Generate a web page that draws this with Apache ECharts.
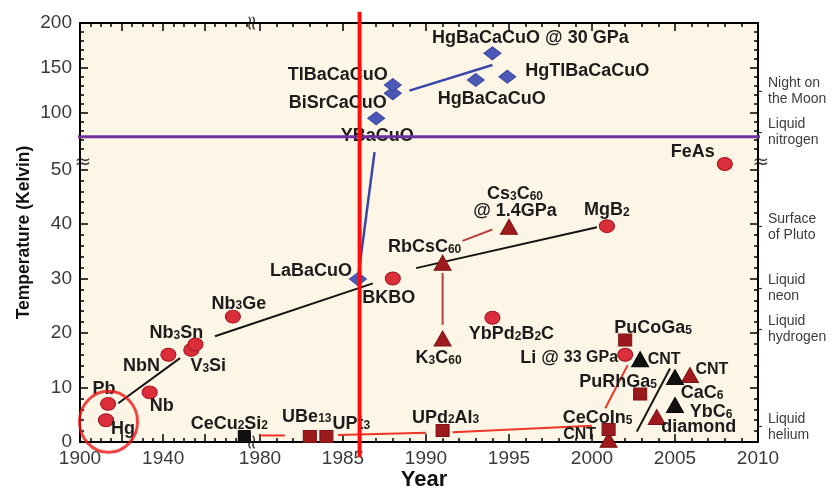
<!DOCTYPE html>
<html>
<head>
<meta charset="utf-8">
<script src="https://cdn.jsdelivr.net/npm/echarts@6/dist/echarts.min.js"></script>
<style>
  html, body { margin: 0; padding: 0; background: #ffffff; }
  #chart { width: 838px; height: 489px; }
</style>
</head>
<body>
<div id="chart"></div>
<script>
// Timeline of superconductor discoveries: critical temperature (K) against year of discovery.

// ---------- data ----------
// Label markup: [x] = subscript, <x> = smaller text.

// red circles
const circleLabels = ['Hg', 'Pb', 'Nb', 'NbN', 'V[3]Si', 'Nb[3]Sn', 'Nb[3]Ge', 'BKBO', 'YbPd[2]B[2]C', 'MgB[2]', 'Li @ <33 GPa>', 'FeAs'];
const circleYears  = [1912.5, 1913.5, 1933.5, 1942.5, 1953.5, 1955.5, 1973.5, 1988.0, 1994.0, 2000.9, 2002.0, 2008.0];
const circleTc     = [4.0, 7.0, 9.1, 16.0, 16.9, 17.9, 23.0, 30.0, 22.8, 39.6, 16.0, 51.0];

// blue diamonds: cuprates
const cuprateLabels = ['LaBaCuO', 'YBaCuO', 'BiSrCaCuO', 'TlBaCaCuO', 'HgBaCaCuO', 'HgBaCaCuO @ 30 GPa', 'HgTlBaCaCuO'];
const cuprateYears  = [1985.9, 1987.0, 1988.0, 1988.0, 1993.0, 1994.0, 1994.9];
const cuprateTc     = [29.9, 94.1, 121.9, 131.1, 136.7, 166.3, 140.3];

// dark red triangles: fullerides and carbon
const carbonLabels = ['K[3]C[60]', 'RbCsC[60]', 'Cs[3]C[60]\n@ 1.4GPa', 'diamond', '<CNT>', '<CNT>'];
const carbonYears  = [1991.0, 1991.0, 1995.0, 2003.9, 2005.9, 2001.0];
const carbonTc     = [19.0, 32.9, 39.5, 4.6, 12.3, 0.4];

// black triangles
const blackTriLabels = ['<CNT>', 'CaC[6]', 'YbC[6]'];
const blackTriYears  = [2002.9, 2005.0, 2005.0];
const blackTriTc     = [15.2, 11.9, 6.8];

// dark red squares: heavy fermions
const fermionLabels = ['UBe[13]', 'UPt[3]', 'UPd[2]Al[3]', 'CeCoIn[5]', 'PuCoGa[5]', 'PuRhGa[5]'];
const fermionYears  = [1983.0, 1984.0, 1991.0, 2001.0, 2002.0, 2002.9];
const fermionTc     = [1.0, 1.0, 2.1, 2.3, 18.7, 8.8];

// black square
const firstFermionLabels = ['CeCu[2]Si[2]'];
const firstFermionYears  = [1979.0];
const firstFermionTc     = [1.0];

// trend connectors, [year, K] end points
const blackTrends = [[[1918.4, 7.1], [1948.1, 15.4]], [[1964.9, 19.4], [1986.8, 29.1]], [[1989.4, 31.9], [2000.3, 39.4]], [[2002.7, 1.9], [2004.7, 13.5]]];
const blueTrends  = [[[1985.9, 29.9], [1986.9, 53.2]], [[1989.0, 124.8], [1994.0, 153.3]]];
const redTrends   = [[[1980.0, 1.2], [1981.5, 1.2]], [[1984.7, 1.3], [1990.0, 1.7]], [[1991.6, 1.8], [2000.0, 3.0]], [[2000.8, 6.2], [2002.15, 14.1]]];
const fullerTrends = [[[1991.0, 21.5], [1991.0, 31.0]], [[1992.2, 36.9], [1994.0, 39.0]]];

// reference temperatures on the right side
const ambientNames = ['Night on\nthe Moon', 'Liquid\nnitrogen', 'Surface\nof Pluto', 'Liquid\nneon', 'Liquid\nhydrogen', 'Liquid\nhelium'];
const ambientTemps = [124, 79, 39.5, 28.2, 20.7, 2.8];

// highlighted markers
const nitrogenLine = [[1893.1, 73.7], [2013.6, 73.7]];
const cuprateYearLine = [[1986.0, -2.75], [1986.0, 212.6]];
const earlyCircle = [1913.7, 3.7];

// tick labels
const yearTickLabels = [1900, 1940, 1980, 1985, 1990, 1995, 2000, 2005, 2010];
const tempTickLabels = [0, 10, 20, 30, 40, 50, 100, 150, 200];

// ---------- broken scales ----------
// years: 1900-1980 compressed, 1980-2010 expanded
const r3 = v => Math.round(v * 1000) / 1000;
function xLeft(yr) { return r3((yr - 1900) * 2.08); }
function xRight(yr) { return r3(180 + (yr - 1980) * 16.6); }
function xPos(yr) { return yr < 1980 ? xLeft(yr) : xRight(yr); }
// temperature: 0-~51 K linear, 60-200 K compressed
function yPos(t) { return r3(t <= 54 ? t * 5.45 : 419 - (200 - t) * 0.9); }
const X_MAX = xRight(2010), Y_MAX = yPos(200);

const xMajorTicks = [1900, 1920, 1940, 1960].map(xLeft).concat([1980, 1985, 1990, 1995, 2000, 2005, 2010].map(xRight));
const xMinorTicks = [1905, 1910, 1915, 1925, 1930, 1935, 1945, 1950, 1955, 1965, 1970, 1975, 1980].map(xLeft)
  .concat(Array.from({ length: 29 }, (_, i) => 1981 + i).filter(y => y % 5 !== 0).map(xRight));
const xLabelPos = yearTickLabels.map(y => (y < 1980 ? xLeft(y) : xRight(y)));
const yMajorTicks = tempTickLabels.map(yPos);
const yMinorTicks = [2, 4, 6, 8, 12, 14, 16, 18, 22, 24, 26, 28, 32, 34, 36, 38, 42, 44, 46, 48,
  60, 70, 80, 90, 110, 120, 130, 140, 160, 170, 180, 190].map(yPos);
const ambientPos = ambientTemps.map(yPos);

function lookup(positions, texts) {
  return v => {
    let best = 0;
    positions.forEach((p, i) => { if (Math.abs(p - v) < Math.abs(positions[best] - v)) best = i; });
    return String(texts[best]);
  };
}

// ---------- label layout (text centre relative to marker, px) ----------
const circleOffsets  = [[17, 9], [-4, -15], [12, 14], [-27, 11], [17, 16], [-19, -11], [6, -13], [-4, 20], [19, 16], [0, -16], [-56, 3], [-32, -12]];
const cuprateOffsets = [[-47, -8], [1, 18], [-55, 10], [-55, -10], [16, 19], [38, -15], [80, -6]];
const carbonOffsets  = [[-4, 20], [-18, -16], [6, -24], [42, 10], [22, -5], [-29, -5]];
const blackTriOffsets = [[24, 0], [27, 16], [36, 7]];
const fermionOffsets = [[-3, -20], [25, -13], [3, -13], [-11, -11], [28, -12], [-22, -12]];
const firstFermionOffsets = [[-15, -13]];

const FONT = '"Liberation Sans", Arial, Helvetica, sans-serif';
const INK = '#1c1c1c';
const PLOT_BG = '#fdf5e6';
const RICH = {
  m: { fontFamily: FONT, fontWeight: 'bold', fontSize: 18, color: INK, lineHeight: 17, textBorderWidth: 0 },
  s: { fontFamily: FONT, fontWeight: 'bold', fontSize: 12, color: INK, lineHeight: 8, verticalAlign: 'bottom', textBorderWidth: 0 },
  k: { fontFamily: FONT, fontWeight: 'bold', fontSize: 16, color: INK, lineHeight: 17, textBorderWidth: 0 }
};

function toRich(str) {
  return str.split('\n').map(line => {
    let out = '';
    const re = /\[([^\]]+)\]|<([^>]+)>|([^\[<]+)/g;
    let m;
    while ((m = re.exec(line))) {
      if (m[1]) out += '{s|' + m[1] + '}';
      else if (m[2]) out += '{k|' + m[2] + '}';
      else out += '{m|' + m[3] + '}';
    }
    return out;
  }).join('\n');
}

function points(labels, years, tc, offsets) {
  return labels.map((t, i) => ({
    value: [xPos(years[i]), yPos(tc[i])],
    richText: toRich(t),
    label: { offset: offsets[i] }
  }));
}

function markerSeries(data, symbol, size, color, border) {
  return {
    type: 'scatter', data, symbol, symbolSize: size, clip: false, z: 3, silent: true,
    itemStyle: { color, borderColor: border, borderWidth: 1, opacity: 1 },
    label: { show: true, position: 'inside', color: INK, textBorderWidth: 0, formatter: p => p.data.richText, rich: RICH },
    emphasis: { disabled: true }
  };
}

function segmentSeries(segments, color, width, z) {
  return segments.map(seg => ({
    type: 'line', data: seg.map(p => [xPos(p[0]), yPos(p[1])]), symbol: 'none', clip: false, z, silent: true,
    lineStyle: { color, width }, emphasis: { disabled: true }
  }));
}

function breakMark(x, y, rotate) {
  return { value: [x, y], label: { rotate } };
}

const series = [].concat(
  [{
    // plot-area fill, spanning the full axis extents
    type: 'custom', xAxisIndex: 0, yAxisIndex: 0, z: -1, silent: true, clip: false,
    data: [[0, 0]],
    renderItem: (params, api) => {
      const a = api.coord([0, Y_MAX]);
      const b = api.coord([X_MAX, 0]);
      return { type: 'rect', shape: { x: a[0], y: a[1], width: b[0] - a[0], height: b[1] - a[1] }, style: { fill: PLOT_BG } };
    }
  }],
  segmentSeries(blackTrends, '#141414', 2, 1),
  segmentSeries(blueTrends, '#3a46aa', 2.5, 1),
  segmentSeries(redTrends, '#ee3527', 2, 1),
  segmentSeries(fullerTrends, '#b8423c', 2, 1),
  [
    markerSeries(points(circleLabels, circleYears, circleTc, circleOffsets), 'circle', [15, 13], '#dc2d3b', '#a3131f'),
    markerSeries(points(cuprateLabels, cuprateYears, cuprateTc, cuprateOffsets), 'diamond', [17, 13], '#4b58b6', '#3a46a0'),
    markerSeries(points(carbonLabels, carbonYears, carbonTc, carbonOffsets), 'triangle', [17, 15], '#9e1a1c', '#801214'),
    markerSeries(points(blackTriLabels, blackTriYears, blackTriTc, blackTriOffsets), 'triangle', [17, 15], '#111111', '#000000'),
    markerSeries(points(fermionLabels, fermionYears, fermionTc, fermionOffsets), 'rect', [13, 12], '#9b1b1d', '#7d1214'),
    markerSeries(points(firstFermionLabels, firstFermionYears, firstFermionTc, firstFermionOffsets), 'rect', [12, 12], '#111111', '#000000'),
    {
      // circled earliest discoveries
      type: 'scatter', data: [[xPos(earlyCircle[0]), yPos(earlyCircle[1])]], symbol: 'circle', symbolSize: [58, 61],
      clip: false, z: 8, silent: true,
      itemStyle: { color: 'rgba(0,0,0,0)', borderColor: '#f01414', borderWidth: 3 }
    },
    {
      // axis break marks
      type: 'scatter', symbol: 'circle', symbolSize: 1, clip: false, z: 6, silent: true,
      itemStyle: { color: 'rgba(0,0,0,0)' },
      label: { show: true, position: 'inside', formatter: '≈', fontSize: 20, color: '#111', fontFamily: 'DejaVu Sans' },
      data: [
        breakMark(r3((xLeft(1980) + xRight(1980)) / 2), 0, 90),
        breakMark(r3((xLeft(1980) + xRight(1980)) / 2), Y_MAX, 90),
        breakMark(3, yPos(51.2), 0),
        breakMark(X_MAX + 3, yPos(51.2), 0)
      ]
    },
    {
      type: 'line', data: nitrogenLine.map(p => [xPos(p[0]), yPos(p[1])]), symbol: 'none', clip: false, z: 19, silent: true,
      lineStyle: { color: '#7030a0', width: 3 }
    },
    {
      type: 'line', data: cuprateYearLine.map(p => [xPos(p[0]), yPos(p[1])]), symbol: 'none', clip: false, z: 20, silent: true,
      lineStyle: { color: '#ff0d0d', width: 4 }
    }
  ]
);

const gridRect = { left: 80, top: 23, width: 678, height: 419, outerBoundsMode: 'none', containLabel: false };
const frame = { show: true, onZero: false, lineStyle: { color: '#000', width: 2 } };
const noLine = { show: false, onZero: false };
const tickLine = { color: '#000', width: 1.5 };
const tickLabelStyle = { color: '#3a3a3a', fontSize: 19, fontFamily: FONT };

const option = {
  animation: false,
  backgroundColor: '#ffffff',
  textStyle: { fontFamily: FONT },
  grid: [
    Object.assign({ show: false }, gridRect),
    Object.assign({ show: false }, gridRect),
    Object.assign({ show: false }, gridRect)
  ],
  xAxis: [
    {
      gridIndex: 0, type: 'value', position: 'bottom', min: 0, max: X_MAX,
      axisLine: frame, splitLine: { show: false },
      axisTick: { show: true, inside: true, length: 8, customValues: xMajorTicks, lineStyle: tickLine },
      axisLabel: Object.assign({ customValues: xLabelPos, margin: 7, formatter: lookup(xLabelPos, yearTickLabels) }, tickLabelStyle),
      name: 'Year', nameLocation: 'middle', nameGap: 27, nameMoveOverlap: false,
      nameTextStyle: { fontSize: 22, fontWeight: 'bold', color: '#111', fontFamily: FONT, padding: [0, 0, 0, 10] }
    },
    {
      gridIndex: 0, type: 'value', position: 'top', min: 0, max: X_MAX,
      axisLine: frame, splitLine: { show: false }, axisLabel: { show: false },
      axisTick: { show: true, inside: true, length: 8, customValues: xMajorTicks, lineStyle: tickLine }
    },
    {
      gridIndex: 1, type: 'value', position: 'bottom', min: 0, max: X_MAX,
      axisLine: noLine, splitLine: { show: false }, axisLabel: { show: false },
      axisTick: { show: true, inside: true, length: 4, customValues: xMinorTicks, lineStyle: tickLine }
    },
    {
      gridIndex: 1, type: 'value', position: 'top', min: 0, max: X_MAX,
      axisLine: noLine, splitLine: { show: false }, axisLabel: { show: false },
      axisTick: { show: true, inside: true, length: 4, customValues: xMinorTicks, lineStyle: tickLine }
    },
    { gridIndex: 2, type: 'value', min: 0, max: X_MAX, show: false, axisLine: noLine }
  ],
  yAxis: [
    {
      gridIndex: 0, type: 'value', position: 'left', min: 0, max: Y_MAX,
      axisLine: frame, splitLine: { show: false },
      axisTick: { show: true, inside: true, length: 8, customValues: yMajorTicks, lineStyle: tickLine },
      axisLabel: Object.assign({ customValues: yMajorTicks, margin: 8, formatter: lookup(yMajorTicks, tempTickLabels) }, tickLabelStyle),
      name: 'Temperature (Kelvin)', nameLocation: 'middle', nameGap: 47, nameMoveOverlap: false,
      nameTextStyle: { fontSize: 17.5, fontWeight: 'bold', color: '#111', fontFamily: FONT }
    },
    {
      gridIndex: 0, type: 'value', position: 'right', min: 0, max: Y_MAX,
      axisLine: frame, splitLine: { show: false }, axisLabel: { show: false },
      axisTick: { show: true, inside: true, length: 8, customValues: yMajorTicks, lineStyle: tickLine }
    },
    {
      gridIndex: 1, type: 'value', position: 'left', min: 0, max: Y_MAX,
      axisLine: noLine, splitLine: { show: false }, axisLabel: { show: false },
      axisTick: { show: true, inside: true, length: 4, customValues: yMinorTicks, lineStyle: tickLine }
    },
    {
      gridIndex: 1, type: 'value', position: 'right', min: 0, max: Y_MAX,
      axisLine: noLine, splitLine: { show: false }, axisLabel: { show: false },
      axisTick: { show: true, inside: true, length: 4, customValues: yMinorTicks, lineStyle: tickLine }
    },
    {
      gridIndex: 2, type: 'value', position: 'right', min: 0, max: Y_MAX,
      axisLine: noLine, splitLine: { show: false },
      axisTick: { show: true, inside: false, length: 4, customValues: ambientPos, lineStyle: { color: '#333', width: 1.2 } },
      axisLabel: {
        customValues: ambientPos, margin: 10, formatter: lookup(ambientPos, ambientNames),
        color: '#3d3d3d', fontSize: 14, lineHeight: 16, fontFamily: FONT, padding: [5, 0, 0, 0]
      }
    }
  ],
  series
};

const chart = echarts.init(document.getElementById('chart'), null, { renderer: 'canvas' });
chart.setOption(option);
</script>
</body>
</html>
